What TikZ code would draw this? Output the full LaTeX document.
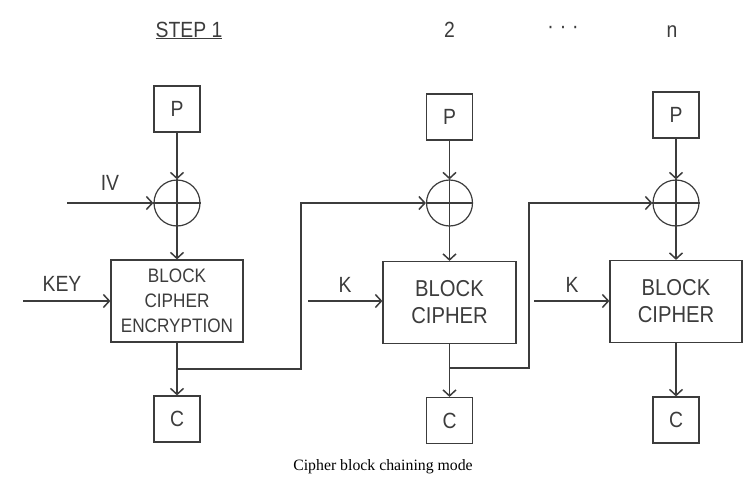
\documentclass[tikz,border=0pt]{standalone}
\usepackage{fontspec}
\setmainfont{Liberation Sans}[FakeStretch=0.88]
\newfontfamily\capfont{Liberation Serif}
\usetikzlibrary{arrows.meta}
\definecolor{ink}{HTML}{3C3C3C}
\tikzset{
  line/.style={draw=ink, line width=1.2pt},
  arr/.style={line, -{Straight Barb[length=6pt,width=13pt,line width=1.5pt]}},
  sqbox/.style={draw=ink, line width=1.2pt, minimum size=46pt, inner sep=0pt,
    text=ink, font=\fontsize{22}{26}\selectfont},
  xorop/.style={draw=ink, line width=1.2pt, circle, minimum size=46pt, inner sep=0pt},
  cipherbox/.style={draw=ink, line width=1.2pt, minimum width=133pt,
    minimum height=82pt, align=center, text=ink},
  lbl/.style={text=ink, font=\fontsize{22}{26}\selectfont, inner sep=0pt}
}
\begin{document}
\begin{tikzpicture}[x=1pt,y=-1pt]
    \useasboundingbox (0,0) rectangle (744,479);

    % headers
    \node[lbl, anchor=base] (s1) at (189,37) {\underline{STEP 1}};
    \node[lbl, anchor=base] (s2) at (449.5,37) {2};
    \node[lbl] (sd) at (563,30) {·\hspace{6pt}·\hspace{6pt}·};
    \node[lbl, anchor=base] (sn) at (672,37) {n};

    % step 1
    \node[sqbox] (p1) at (177,109) {P};
    \node[xorop] (x1) at (177,203) {};
    \node[cipherbox, minimum width=132pt, font=\fontsize{19.5}{25}\selectfont] (b1) at (177,301) {BLOCK\\CIPHER\\ENCRYPTION};
    \node[sqbox] (c1) at (177,419) {C};
    \node[lbl] (iv) at (110,183) {IV};
    \node[lbl] (key) at (62,284) {KEY};

    % step 2
    \node[sqbox] (p2) at (449.5,117) {P};
    \node[xorop] (x2) at (449.5,203) {};
    \node[cipherbox, font=\fontsize{23}{27}\selectfont] (b2) at (449.5,302.5) {BLOCK\\CIPHER};
    \node[sqbox] (c2) at (449.5,420.5) {C};
    \node[lbl] (k2) at (345,285) {K};

    % step n
    \node[sqbox] (p3) at (676,115) {P};
    \node[xorop] (x3) at (676,203) {};
    \node[cipherbox, minimum width=132pt, font=\fontsize{23}{27}\selectfont] (b3) at (676,301.5) {BLOCK\\CIPHER};
    \node[sqbox] (c3) at (676,420) {C};
    \node[lbl] (k3) at (572,285) {K};

    \node[font=\capfont\fontsize{15.8}{18}\selectfont] (cap) at (383,467) {Cipher block chaining mode};

    % free ends
    \coordinate (ivin) at (67,203);
    \coordinate (keyin) at (23,301);
    \coordinate (k2in) at (308,301);
    \coordinate (k3in) at (534,301);
    \coordinate (j1) at (177,369);
    \coordinate (r1) at (301,203);
    \coordinate (j2) at (449.5,368);
    \coordinate (r2) at (529,203);

    % xor crosses
    \draw[line] (x1.north)--(x1.south) (x1.west)--(x1.east);
    \draw[line] (x2.north)--(x2.south) (x2.west)--(x2.east);
    \draw[line] (x3.north)--(x3.south) (x3.west)--(x3.east);

    \draw[arr] (p1) -- (x1);
    \draw[arr] (x1) -- (b1);
    \draw[arr] (b1) -- (c1);
    \draw[arr] (ivin) -- (x1);
    \draw[arr] (keyin) -- (keyin -| b1.west);

    \draw[arr] (p2) -- (x2);
    \draw[arr] (x2) -- (b2);
    \draw[arr] (b2) -- (c2);
    \draw[arr] (k2in) -- (k2in -| b2.west);
    \draw[arr] (j1) -| (r1) -- (x2.west);

    \draw[arr] (p3) -- (x3);
    \draw[arr] (x3) -- (b3);
    \draw[arr] (b3) -- (c3);
    \draw[arr] (k3in) -- (k3in -| b3.west);
    \draw[arr] (j2) -| (r2) -- (x3.west);
    \end{tikzpicture}
\end{document}
